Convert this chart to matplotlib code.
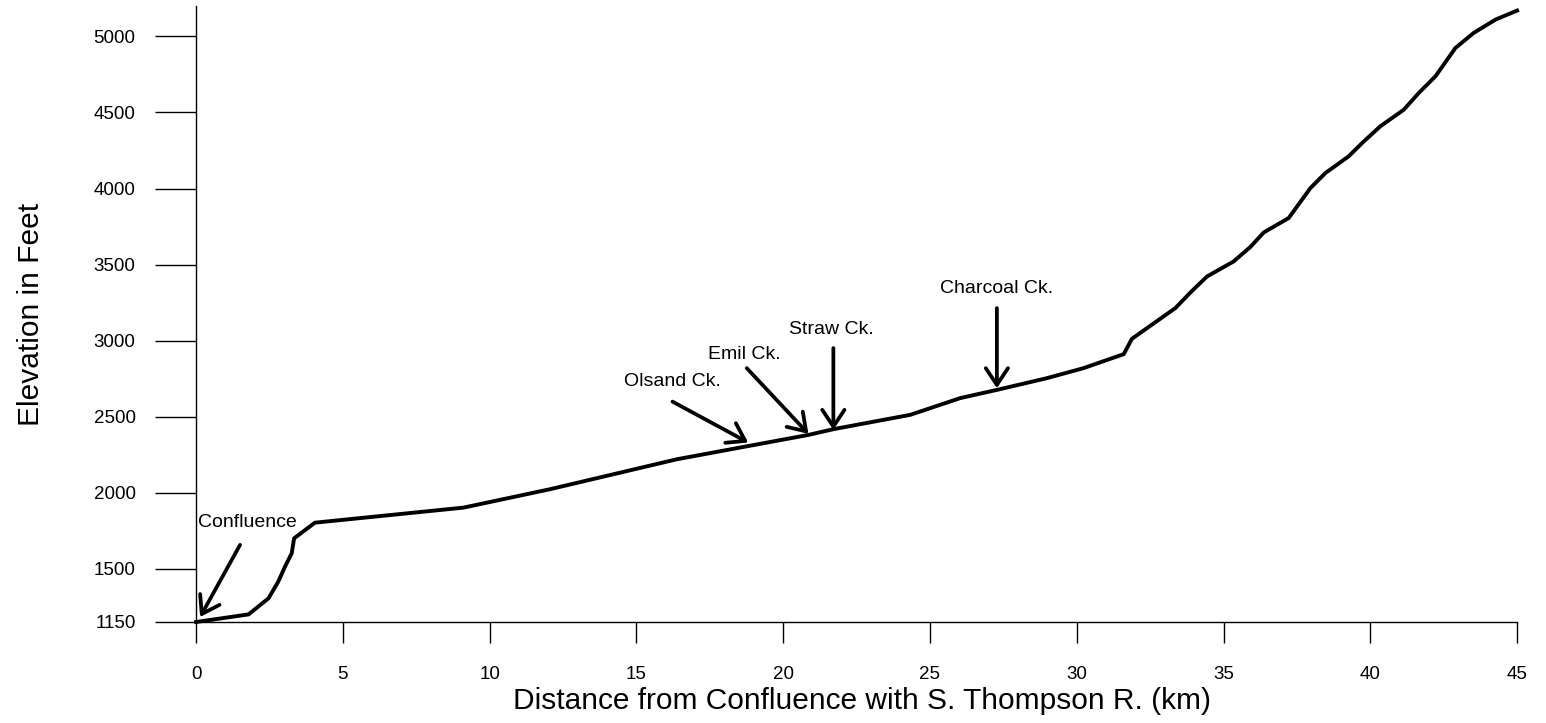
import numpy as np
import matplotlib
matplotlib.use("Agg")
import matplotlib.pyplot as plt

plt.rcParams['font.family'] = ['Liberation Sans', 'DejaVu Sans']

# Stream profile
distance_km = [0.0, 1.79, 2.47, 2.80, 3.03, 3.26, 3.34, 4.05, 9.11, 12.06,
               16.38, 20.86, 21.72, 24.33, 26.03, 27.28, 28.98, 30.23, 31.60,
               31.88, 33.36, 33.87, 34.44, 35.34, 35.91, 36.37, 37.22, 37.96,
               38.47, 39.26, 39.72, 40.34, 41.14, 41.65, 42.22, 42.90, 43.52,
               44.27, 45.0]
elevation_ft = [1150, 1200, 1306, 1415, 1514, 1602, 1700, 1803, 1902, 2023,
                2220, 2380, 2418, 2512, 2622, 2676, 2753, 2819, 2911,
                3012, 3214, 3316, 3422, 3520, 3615, 3711, 3806, 4003,
                4102, 4211, 4299, 4409, 4518, 4628, 4738, 4924, 5023,
                5111, 5170]

# Tributary labels: text position, arrow tail and arrow tip (km, ft)
labels = ['Confluence', 'Olsand Ck.', 'Emil Ck.', 'Straw Ck.', 'Charcoal Ck.']
text_km = [0.05, 16.23, 18.67, 21.65, 27.28]
text_ft = [1801, 2731, 2907, 3071, 3341]
tail_km = [1.5, 16.23, 18.76, 21.71, 27.28]
tail_ft = [1657, 2599, 2819, 2951, 3214]
tip_km = [0.14, 18.81, 20.86, 21.71, 27.28]
tip_ft = [1183, 2330, 2387, 2413, 2687]

x_ticks = [0, 5, 10, 15, 20, 25, 30, 35, 40, 45]
y_ticks = [1150, 1500, 2000, 2500, 3000, 3500, 4000, 4500, 5000]

fig = plt.figure(figsize=(15.46, 7.23), dpi=100)
ax = fig.add_axes([0.1268, 0.1397, 0.8545, 0.852])

ax.plot(distance_km, elevation_ft, color='black', linewidth=2.8,
        solid_joinstyle='round', clip_on=False)

# Tributary annotations
for i in range(len(labels)):
    ha = 'left' if i == 0 else 'center'
    ax.text(text_km[i], text_ft[i], labels[i], fontsize=14, ha=ha, va='center')
    ax.annotate('', xy=(tip_km[i], tip_ft[i]), xytext=(tail_km[i], tail_ft[i]),
                arrowprops=dict(arrowstyle='->,head_length=0.6,head_width=0.4',
                                color='black', lw=2.7, mutation_scale=20,
                                shrinkA=0, shrinkB=0))

ax.set_xlim(0, 45)
ax.set_ylim(1150, 5200)
ax.set_xticks(x_ticks)
ax.set_yticks(y_ticks)

ax.spines['top'].set_visible(False)
ax.spines['right'].set_visible(False)
ax.spines['left'].set_linewidth(1.0)
ax.spines['bottom'].set_linewidth(1.0)

ax.tick_params(axis='x', direction='out', length=15, width=1.0, pad=17, labelsize=13.5)
ax.tick_params(axis='y', direction='out', length=29.5, width=1.0, pad=14, labelsize=13.5)

ax.set_xlabel('Distance from Confluence with S. Thompson R. (km)', fontsize=21.5)
ax.set_ylabel('Elevation in Feet', fontsize=21.5)
ax.xaxis.set_label_coords(0.504, -0.106)
ax.yaxis.set_label_coords(-0.114, 0.5)

plt.savefig('out.png', dpi=100)
